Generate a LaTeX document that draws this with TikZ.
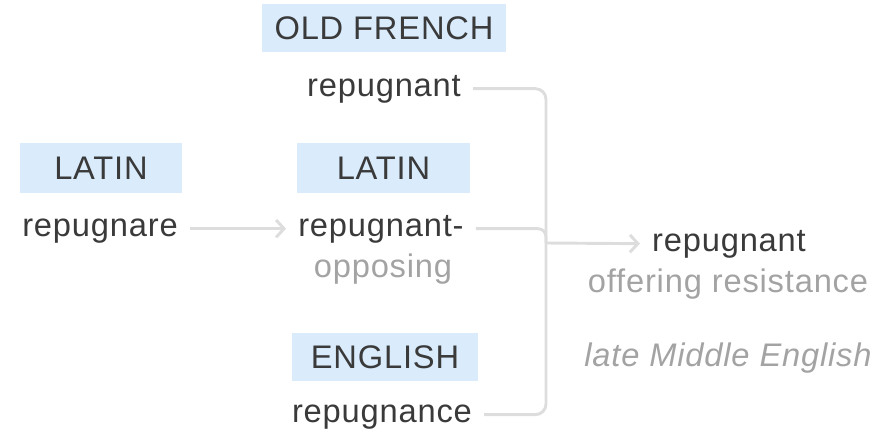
\documentclass[tikz,border=0pt]{standalone}
\usepackage{fontspec}
\setmainfont{Liberation Sans}[LetterSpace=2.5]
\usetikzlibrary{arrows.meta}
\definecolor{langblue}{HTML}{DAECFC}
\definecolor{inkgray}{HTML}{3A3A3A}
\definecolor{softgray}{HTML}{A3A3A3}
\definecolor{linegray}{HTML}{DDDDDD}
\tikzset{
  lang/.style={fill=langblue,text=inkgray,inner sep=0pt},
  word/.style={anchor=base,text=inkgray,inner xsep=9pt,inner ysep=0pt,text height=17.6pt,text depth=5.1pt},
  gloss/.style={anchor=base,text=softgray},
  link/.style={draw=linegray,line width=2.2pt,rounded corners=8pt},
  linkarrow/.style={link,-{Straight Barb[length=6pt,width=13pt]}}
}

\begin{document}
\begin{tikzpicture}[x=0.75pt,y=-0.75pt,font=\fontsize{24.5}{29}\selectfont]
\useasboundingbox (0,0) rectangle (882,434);
\node[lang,minimum width=183pt,minimum height=36pt] (oflang) at (384,28.5) {OLD FRENCH};
\node[word] (ofword) at (384,97) {repugnant};
\node[lang,minimum width=121.5pt,minimum height=37.5pt] (lalang) at (101,168) {LATIN};
\node[word] (laword) at (100,237) {repugnare};
\node[lang,minimum width=130pt,minimum height=37.5pt] (lblang) at (383.5,168) {LATIN};
\node[word] (lbword) at (381,237) {repugnant-};
\node[gloss] (lbgloss) at (383,278) {opposing};
\node[lang,minimum width=139.5pt,minimum height=36pt] (enlang) at (385,357) {ENGLISH};
\node[word] (enword) at (382,423) {repugnance};
\node[word] (result) at (729,252) {repugnant};
\node[gloss] (resgloss) at (728,293) {offering resistance};
\node[gloss,font=\fontsize{24.5}{29}\selectfont\itshape] (period) at (728,367) {late Middle English};
\coordinate (j) at (546,243);
\draw[linkarrow] (laword.east) -- (lbword.west);
\draw[link] (ofword.east) -| (j);
\draw[link,rounded corners=6pt] (lbword.east) -| (j);
\draw[link] (enword.east) -| (j);
\draw[linkarrow] (j) -- (result.west);
\end{tikzpicture}
\end{document}
